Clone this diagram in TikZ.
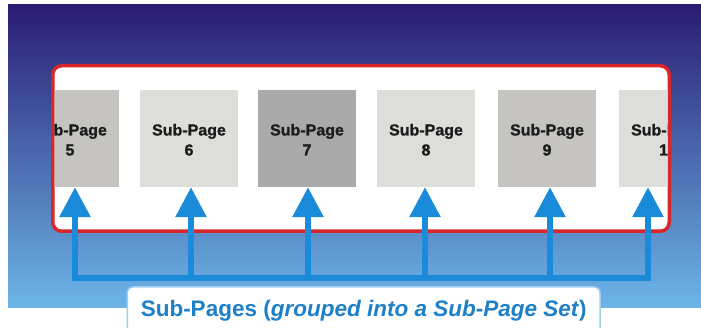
\documentclass[tikz,border=0pt]{standalone}
\usepackage{fontspec}
\setmainfont{Liberation Sans}
\newfontfamily\heavyfont{Liberation Sans}[BoldFeatures={FakeBold=1.2}]
\usetikzlibrary{arrows.meta}
\definecolor{navy}{HTML}{2A1C72}
\definecolor{midblue}{HTML}{3D4C9C}
\definecolor{skyb}{HTML}{6CB6E8}
\definecolor{redb}{HTML}{D8262A}
\definecolor{arrowb}{HTML}{1A8BD9}
\definecolor{textb}{HTML}{1E80C8}
\definecolor{lblborder}{HTML}{9FCFEF}
\definecolor{pgA}{HTML}{C5C4C1}
\definecolor{pgB}{HTML}{DDDDD9}
\definecolor{pgC}{HTML}{AAAAAA}
\definecolor{pgtext}{HTML}{1C1C1C}
\newcommand{\pgtxt}[1]{\raisebox{-3pt}[\height][\depth]{\begin{tabular}{@{}c@{}}Sub-Page\\#1\end{tabular}}}
\tikzset{
  subpage/.style={minimum width=98pt, minimum height=97pt, inner sep=0pt,
    align=center, text=pgtext, font=\heavyfont\bfseries\fontsize{16}{20}\selectfont},
  upbus/.style={draw=arrowb, line width=6pt, -{Triangle[width=30pt,length=30pt]}},
  bus/.style={draw=arrowb, line width=6pt, line cap=rect},
  framebox/.style={draw=redb, line width=3.5pt, fill=white, rounded corners=9pt,
    minimum width=616.5pt, minimum height=165.5pt},
  lbl/.style={draw=lblborder, fill=white, line width=1.5pt, rounded corners=6pt,
    text=textb, font=\bfseries\fontsize{22.5}{26}\selectfont,
    inner xsep=13.5pt, inner ysep=13.5pt, text height=16.5pt, text depth=5pt}
}
\begin{document}
\begin{tikzpicture}[x=1pt,y=-1pt]
\useasboundingbox (0,0) rectangle (701,328);
\shade[top color=navy, middle color=midblue, bottom color=skyb] (8,5) rectangle (701,308);
\node[framebox] (frame) at (361,148.5) {};
\begin{scope}
\clip[rounded corners=7pt] (54.5,66) rectangle (667.5,231);
\node[subpage, fill=pgA] (p5) at (70,138.5) {\pgtxt{5}};
\node[subpage, fill=pgB] (p6) at (189,138.5) {\pgtxt{6}};
\node[subpage, fill=pgC] (p7) at (307,138.5) {\pgtxt{7}};
\node[subpage, fill=pgB] (p8) at (426,138.5) {\pgtxt{8}};
\node[subpage, fill=pgA] (p9) at (547,138.5) {\pgtxt{9}};
\node[subpage, fill=pgB] (p10) at (668,138.5) {\pgtxt{10}};
\end{scope}
\coordinate (c5) at (75,278);
\coordinate (c6) at (191,278);
\coordinate (c7) at (308,278);
\coordinate (c8) at (425,278);
\coordinate (c9) at (550,278);
\coordinate (c10) at (648,278);
\draw[bus] (c5) -- (c10);
\draw[upbus] (c5) -- (c5 |- p5.south);
\draw[upbus] (c6) -- (c6 |- p6.south);
\draw[upbus] (c7) -- (c7 |- p7.south);
\draw[upbus] (c8) -- (c8 |- p8.south);
\draw[upbus] (c9) -- (c9 |- p9.south);
\draw[upbus] (c10) -- (c10 |- p10.south);
\node[lbl, anchor=base west] (label) at (126.5,317) {Sub-Pages (\textit{grouped into a Sub-Page Set})};
\end{tikzpicture}
\end{document}
